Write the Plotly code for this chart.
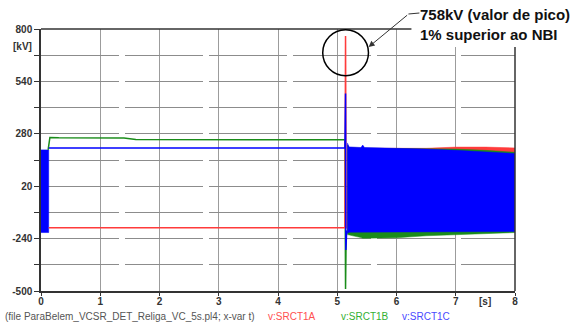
import plotly.graph_objects as go

# ---------------- data ----------------
# steady-state / spike lines
red_t = [0.13, 5.13, 5.14, 5.15]
red_v = [-186, -186, 765, -190]
green_t = [0.12, 0.15, 0.3, 1.4, 1.6, 5.13, 5.14, 5.15]
green_v = [200, 262, 260, 259, 252, 250, -490, -230]
blue_t = [0.13, 5.13, 5.14, 5.145, 5.16]
blue_v = [209, 209, 480, -296, -200]

# oscillation envelopes (initial energisation 0 - 0.13 s)
init_t = [0.0, 0.13]
init_up = [200, 200]
init_lo = [-210, -210]

# oscillation envelopes after reclosing
band_t = [5.17, 5.2, 5.4, 5.43, 5.46, 6.0, 6.5, 7.0, 7.5, 8.0]
blue_up = [235, 215, 212, 224, 212, 209, 204, 198, 190, 182]
blue_lo = [-215, -208, -205, -205, -205, -205, -205, -205, -205, -205]
green_up = [225, 212, 208, 212, 208, 207, 205, 204, 198, 188]
green_lo = [-220, -222, -235, -238, -240, -236, -226, -222, -215, -210]
red_up = [225, 212, 208, 212, 208, 208, 208, 214, 214, 210]
red_lo = [-212, -206, -206, -206, -206, -206, -206, -206, -206, -206]

y_ticks = [800, 670, 540, 410, 280, 150, 20, -110, -240, -370, -500]
y_labels = ["800", "", "540", "", "280", "", "20", "", "-240", "", "-500"]
x_ticks = [0, 1, 2, 3, 4, 5, 6, 7, 8]

RED = "#ff3b3b"
GREEN = "#1a8c1a"
BLUE = "#0000ff"
FRAME = "#333"

# plot area in pixels
W, H = 573, 323
L, R, T, B = 39, 515, 29, 291


def px(x):
    return (x - L) / (R - L)


def py(y):
    return (B - y) / (B - T)


def band(t, up, lo, color):
    return go.Scatter(x=list(t) + list(t)[::-1], y=list(up) + list(lo)[::-1],
                      fill="toself", fillcolor=color, mode="lines",
                      line=dict(color=color, width=0.5), hoverinfo="skip",
                      showlegend=False)


fig = go.Figure()
# bands: red, green, blue (blue on top)
fig.add_trace(band(init_t, init_up, init_lo, BLUE))
fig.add_trace(band(band_t, red_up, red_lo, RED))
fig.add_trace(band(band_t, green_up, green_lo, GREEN))
fig.add_trace(band(band_t, blue_up, blue_lo, BLUE))
# lines
fig.add_trace(go.Scatter(x=green_t, y=green_v, mode="lines",
                         line=dict(color=GREEN, width=1.5), showlegend=False))
fig.add_trace(go.Scatter(x=red_t, y=red_v, mode="lines",
                         line=dict(color=RED, width=1.5), showlegend=False))
fig.add_trace(go.Scatter(x=blue_t, y=blue_v, mode="lines",
                         line=dict(color=BLUE, width=1.5), showlegend=False))

FONT = "Liberation Sans, Arial, sans-serif"
TICKFONT = dict(family=FONT, size=10, color="#333", weight="bold")

fig.update_layout(
    width=W, height=H,
    margin=dict(l=L, r=W - R, t=T, b=H - B),
    paper_bgcolor="white", plot_bgcolor="white",
    font=dict(family=FONT, size=10, color="#222"),
    showlegend=False,
    xaxis=dict(range=[0, 8], tickvals=x_ticks, ticktext=[str(v) for v in x_ticks],
               showgrid=True, gridcolor="#9c9c9c", gridwidth=1,
               showline=True, linecolor=FRAME, linewidth=1.5, mirror=False,
               ticks="outside", ticklen=3, tickcolor=FRAME, zeroline=False,
               ticklabelstandoff=-3, tickfont=TICKFONT),
    yaxis=dict(range=[-500, 800], tickvals=y_ticks, ticktext=y_labels,
               showgrid=True, gridcolor="#8c8c8c", gridwidth=1, griddash="78px,6px",
               showline=True, linecolor=FRAME, linewidth=1.5, mirror=False,
               ticks="outside", ticklen=5, tickcolor=FRAME, zeroline=False,
               tickfont=TICKFONT),
)

# white box under the annotation text (hides grid in the top-right corner)
fig.add_shape(type="rect", xref="paper", yref="paper",
              x0=px(411), x1=px(575), y0=py(47), y1=py(-2),
              fillcolor="white", line=dict(width=0), layer="above")
# top and right frame, interrupted by the annotation box
fig.add_shape(type="line", xref="paper", yref="paper", x0=0, x1=px(411), y0=1, y1=1,
              line=dict(color=FRAME, width=1.5), layer="above")
fig.add_shape(type="line", xref="paper", yref="paper", x0=1, x1=1, y0=0, y1=py(47),
              line=dict(color=FRAME, width=1.5), layer="above")
# circle around the peak
fig.add_shape(type="circle", xref="x", yref="y",
              x0=4.755, x1=5.527, y0=568, y1=796,
              line=dict(color="black", width=1.5), layer="above")

fig.add_annotation(xref="paper", yref="paper", x=px(418), y=py(25), xanchor="left",
                   yanchor="middle", align="left", showarrow=False,
                   text="<b>758kV (valor de pico)<br>1% superior ao NBI</b>",
                   font=dict(family=FONT, size=15, color="#111"))
# leader line + arrow
fig.add_shape(type="line", xref="paper", yref="paper",
              x0=px(419), y0=py(13), x1=px(408), y1=py(14),
              line=dict(color=FRAME, width=1), layer="above")
fig.add_annotation(xref="paper", yref="paper", x=px(368), y=py(47),
                   ax=40, ay=-33, axref="pixel", ayref="pixel",
                   text="", showarrow=True, arrowhead=2, arrowsize=1.2,
                   arrowwidth=1, arrowcolor=FRAME)

# axis unit labels
fig.add_annotation(xref="paper", yref="paper", x=px(20), y=py(46), xanchor="center",
                   yanchor="middle", showarrow=False, text="[kV]",
                   font=dict(family=FONT, size=10, color="#333", weight="bold"))
fig.add_annotation(xref="paper", yref="paper", x=px(485), y=py(301), xanchor="center",
                   yanchor="middle", showarrow=False, text="[s]",
                   font=dict(family=FONT, size=10, color="#333", weight="bold"))

# footer
FOOT_Y = py(316)
fig.add_annotation(xref="paper", yref="paper", x=px(1), y=FOOT_Y, xanchor="left",
                   yanchor="middle", showarrow=False,
                   text="(file ParaBelem_VCSR_DET_Religa_VC_5s.pl4; x-var t)",
                   font=dict(size=10, color="#555"))
fig.add_annotation(xref="paper", yref="paper", x=px(265), y=FOOT_Y, xanchor="left",
                   yanchor="middle", showarrow=False, text="v:SRCT1A",
                   font=dict(size=10, color="#ff5050"))
fig.add_annotation(xref="paper", yref="paper", x=px(338), y=FOOT_Y, xanchor="left",
                   yanchor="middle", showarrow=False, text="v:SRCT1B",
                   font=dict(size=10, color="#33b033"))
fig.add_annotation(xref="paper", yref="paper", x=px(400), y=FOOT_Y, xanchor="left",
                   yanchor="middle", showarrow=False, text="v:SRCT1C",
                   font=dict(size=10, color="#4a4aff"))

fig.write_html("out.html", config={"displayModeBar": False},
               post_script="document.body.style.margin='0px';")
